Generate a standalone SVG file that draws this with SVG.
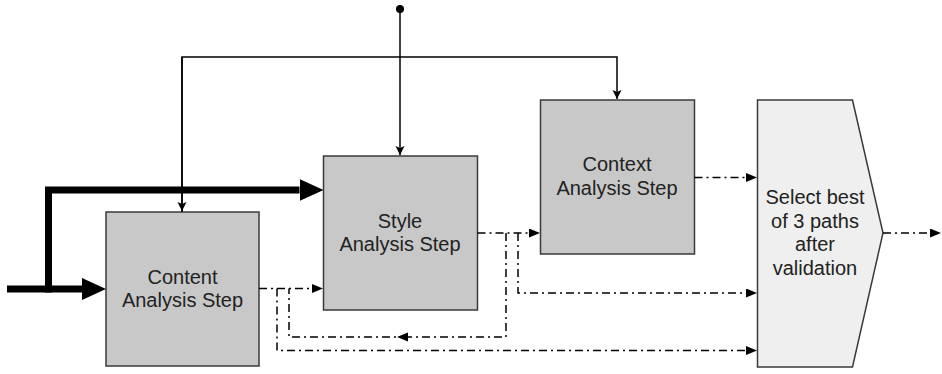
<svg xmlns="http://www.w3.org/2000/svg" width="942" height="374" viewBox="0 0 942 374">
<style>
.box{fill:#c8c8c8;stroke:#3a3a3a;stroke-width:1.5}
.sel{fill:#efefef;stroke:#3a3a3a;stroke-width:1.5}
.lbl{font-family:"Liberation Sans",Arial,sans-serif;font-size:20px;fill:#222;text-anchor:middle}
.thin{fill:none;stroke:#000;stroke-width:1.5}
.thick{fill:none;stroke:#000;stroke-width:7}
.dash{fill:none;stroke:#000;stroke-width:1.5;stroke-dasharray:8,4,2,4}
</style>
<defs>
<marker id="ahThin" markerUnits="userSpaceOnUse" markerWidth="10" markerHeight="10" refX="9" refY="5" orient="auto"><path d="M0,0.5 L9,5 L0,9.5 L2,5 z" fill="#000"/></marker>
<marker id="ahDash" markerUnits="userSpaceOnUse" markerWidth="12" markerHeight="10" refX="0" refY="4.5" orient="auto"><path d="M0,0 L11,4.5 L0,9 z" fill="#000"/></marker>
<marker id="ahThick" markerUnits="userSpaceOnUse" markerWidth="25" markerHeight="23" refX="0" refY="11" orient="auto"><path d="M0,0 L24,11 L0,22 z" fill="#000"/></marker>
</defs>
<g id="content"><rect class="box" x="106" y="212" width="153" height="154"/><text class="lbl" x="182.5" y="283.5">Content</text><text class="lbl" x="182.5" y="306.5">Analysis Step</text></g>
<g id="style"><rect class="box" x="323.5" y="156" width="154" height="154"/><text class="lbl" x="400" y="227.5">Style</text><text class="lbl" x="400" y="250.5">Analysis Step</text></g>
<g id="context"><rect class="box" x="540.5" y="100" width="154" height="154"/><text class="lbl" x="617" y="171">Context</text><text class="lbl" x="617" y="194.5">Analysis Step</text></g>
<g id="select"><path class="sel" d="M757.5,100 L852.5,100 L883,233 L852.5,367 L757.5,367 z"/><text class="lbl" x="815" y="204">Select best</text><text class="lbl" x="815" y="227.5">of 3 paths</text><text class="lbl" x="815" y="251">after</text><text class="lbl" x="815" y="274.5">validation</text></g>
<g id="connectors">
<circle cx="400" cy="9" r="4" fill="#000"/>
<path class="thin" d="M400,9 L400,155" marker-end="url(#ahThin)"/>
<path class="thin" d="M182,212 L182,57 L617,57 L617,99" marker-end="url(#ahThin)"/>
<path class="thin" d="M182,57 L182,211" marker-end="url(#ahThin)"/>
<path class="thick" d="M7,289 L82,289" marker-end="url(#ahThick)"/>
<path class="thick" d="M48.5,292.5 L48.5,190 L299.5,190" marker-end="url(#ahThick)"/>
<path class="dash" d="M259,288.5 L312,288.5" marker-end="url(#ahDash)"/>
<path class="dash" d="M277,288.5 L277,350.5 L746,350.5" marker-end="url(#ahDash)"/>
<path class="dash" d="M477.5,233 L529,233" marker-end="url(#ahDash)"/>
<path class="dash" d="M506,233 L506,337 L408,337" marker-end="url(#ahDash)"/>
<path class="dash" d="M408,337 L289,337 L289,288.5"/>
<path class="dash" d="M518,233 L518,293 L746,293" marker-end="url(#ahDash)"/>
<path class="dash" d="M694.5,177.5 L746,177.5" marker-end="url(#ahDash)"/>
<path class="dash" d="M883,233 L930,233" marker-end="url(#ahDash)"/>
</g>
</svg>
